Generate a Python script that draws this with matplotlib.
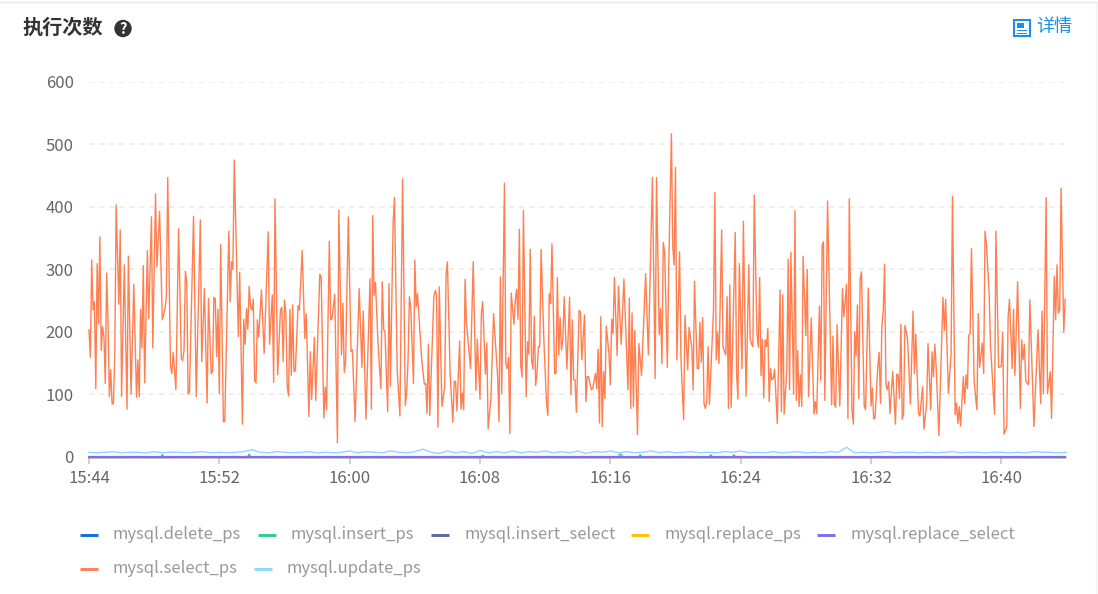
import matplotlib
matplotlib.use("Agg")
import matplotlib.pyplot as plt
from matplotlib.patches import Circle, Rectangle
from matplotlib.lines import Line2D

plt.rcParams['font.family'] = ['Noto Sans CJK SC', 'DejaVu Sans']

TITLE = "执行次数"
DETAIL = "详情"
Y_TICKS = [0, 100, 200, 300, 400, 500, 600]
X_TICK_MIN = [0, 8, 16, 24, 32, 40, 48, 56]
X_TICK_LABELS = ["15:44", "15:52", "16:00", "16:08", "16:16", "16:24", "16:32", "16:40"]
STEP_MIN = 5 / 60  # sample step: 5 seconds

select_steps_a = [0,1,2,3,4,5,6,7,8,9,10,11,12,13,14,15,16,17,18,19,20,22,23,24,26,28,29,31,33,35,36,37,38,39,40,41,43,44,46,47,49,50,52,54,56,57,58,60,61,62,64,66,68,69,70,71,72,73,74,77,79,82,83,85,87,88,90,91,92,93,94,95,96,97,99,100,103,104,105,106,107,110,111,113,114,115,116,117,118,119,120,121,122,123,124,125,127,129,132,133,135,136,137,139,141,142,143,144,145,146,147,148,149,150,151,152,154,155,157,159,160,162,163,164,166,167,170,171,173,174,175,177,178,179,181,183,184,186,187,188,189,191,193,194,196,199,201,202,204,207,208,209,210,211,213,215,216,217,218,220,221,222,224,225,227,229,231,233,234,235]
select_values_a = [203,159,315,235,248,109,309,213,352,170,208,192,117,294,219,96,139,84,85,165,403,244,363,96,307,76,321,100,276,95,155,96,236,174,306,118,330,221,384,174,421,304,393,219,237,256,447,144,133,167,107,365,157,154,171,297,280,100,104,385,96,379,152,269,86,253,133,136,255,253,160,236,101,340,56,56,361,248,312,300,475,192,295,52,220,180,237,204,273,240,235,252,122,118,219,191,267,165,360,180,259,119,413,131,235,239,152,251,229,112,97,236,130,243,136,138,242,235,330,189,229,64,168,91,191,90,292,288,62,111,75,345,219,221,260,22,395,163,246,135,152,384,168,171,56,269,143,233,60,285,76,386,258,279,176,109,280,204,200,72,277,113,373,415,139,65,445,82,101,155]

select_steps_b = [236,237,239,240,241,242,245,247,248,249,250,251,254,255,256,257,258,260,262,263,264,266,268,269,270,271,273,274,275,276,277,278,281,283,285,286,288,289,290,292,293,294,296,298,301,302,303,304,306,307,308,309,310,311,313,314,315,316,317,318,319,320,322,323,324,325,326,327,328,329,330,331,332,333,335,337,338,339,340,341,343,344,345,346,347,348,349,350,352,354,355,356,357,358,359,361,362,363,365,366,367,368,370,371,373,374,375,376,377,378,379,380,381,383,384,385,386,387,389,390,392,394,396,397,398,399,400,401,402,404,405,407,410,412,415,417,418,420,421,422,423,424,426,427,429,430,431,432,433,435,436,438,439,441,442,444,445,446,448,449,450,451,452,453,454,455,456,457,460,461,462,463,464,466,467,469,470,471,472,473,476,477,478]
select_values_b = [256,240,117,315,240,261,157,116,117,69,180,66,256,266,259,47,272,80,112,291,312,133,55,121,120,73,185,76,102,75,284,216,141,312,106,188,92,229,248,132,182,45,91,229,128,56,288,101,438,149,141,159,37,262,212,251,268,220,364,147,127,394,96,184,164,332,155,140,225,114,133,176,176,332,189,85,66,261,245,341,133,133,287,163,223,171,187,256,140,255,99,219,123,123,71,234,232,155,227,88,128,128,107,109,133,109,172,54,224,48,136,93,209,165,115,220,197,287,162,273,180,284,165,107,254,77,230,80,202,35,181,130,293,163,447,125,447,195,237,149,343,328,143,299,517,336,307,463,155,328,157,59,226,139,207,176,107,281,141,141,215,151,223,85,77,88,176,84,235,423,155,200,149,363,176,163,256,77,275,79,359,133,92]

select_steps_c = [479,481,482,484,486,487,488,489,490,492,493,494,495,496,497,498,499,500,501,502,503,504,505,507,509,510,511,512,514,515,516,517,519,520,521,522,523,524,525,526,528,529,530,532,534,535,536,538,539,540,541,542,544,547,548,549,550,551,553,555,556,558,559,560,562,563,564,565,566,567,568,569,571,572,574,576,577,578,579,581,582,583,584,585,586,587,588,589,590,592,594,595,596,597,598,599,600,601,602,603,605,607,608,609,611,612,614,615,617,618,620,621,622,623,624,626,629,630,631,633,635,636,638,639,640,641,642,644,645,646,647,648,649,650,652,654,655,656,658,659,660,661,663,664,667,668,670,672,673,674,676,677,678,680,681,682,684,686,687,688,689,690,692,693,696,699,701,702,703,705,706,708,709,711,712,713,714,715,716,718,719]
select_values_c = [309,141,377,97,307,189,180,176,419,197,175,287,130,188,94,187,176,205,88,141,123,125,140,53,267,72,259,68,139,316,107,327,100,394,90,170,80,131,80,321,194,300,96,222,68,88,69,241,122,339,344,90,409,83,193,85,79,211,81,269,224,276,61,413,75,52,200,161,243,93,285,296,81,75,270,81,110,60,62,144,167,85,208,232,308,115,107,120,69,136,52,132,131,93,212,60,69,210,200,187,84,233,133,196,69,65,112,44,85,181,75,168,128,180,144,34,255,202,252,101,165,417,67,86,53,80,49,128,85,131,109,195,197,333,120,75,229,143,182,133,361,341,263,179,68,361,143,144,199,36,48,224,252,141,236,130,280,77,187,155,180,121,115,251,48,203,85,233,101,415,101,136,61,289,219,307,230,235,430,199,252]

# one reading every 30 s
update_values = [7,6,7,8,6,7,7,6,8,6,7,7,6,7,8,6,7,6,7,8,11,7,6,8,7,6,7,8,6,7,6,7,9,6,8,7,6,9,7,6,8,12,7,5,9,6,8,5,10,6,8,6,9,6,8,7,9,6,8,6,9,5,8,7,9,6,8,6,7,9,6,8,6,7,8,6,7,6,8,7,9,6,7,6,8,6,7,8,6,7,6,8,7,15,6,7,6,7,8,6,7,7,6,7,6,7,8,6,7,7,6,7,7,6,7,6,8,7,7,6,7]
update_every = 6

insert_steps = [0,53,54,55,117,118,119,289,290,291,390,391,392,393,405,406,407,457,458,459,474,475,476,719]
insert_values = [0,0,3,0,0,4,0,0,2,0,0,4,3,0,0,3,0,0,3,0,0,3,0,0]

zero_span = [0, 719]
zero_values = [0, 0]

legend_names = ["mysql.delete_ps", "mysql.insert_ps", "mysql.insert_select", "mysql.replace_ps",
                "mysql.replace_select", "mysql.select_ps", "mysql.update_ps"]
legend_colors = ["#0A74D0", "#2ECC8F", "#5B6C9C", "#FFC107", "#8669F0", "#FF7F50", "#8ADAFF"]

W, H = 1098, 594
fig = plt.figure(figsize=(W / 100, H / 100), dpi=100, facecolor="white")

L, R, T, B = 89, 1066.5, 82, 456.6
ax = fig.add_axes([L / W, 1 - B / H, (R - L) / W, (B - T) / H])
ax.set_xlim(0, 60)
ax.set_ylim(0, 600)
ax.patch.set_alpha(0)
for s in ax.spines.values():
    s.set_visible(False)

ax.set_yticks(Y_TICKS)
ax.set_xticks(X_TICK_MIN)
ax.set_xticklabels(X_TICK_LABELS)
ax.tick_params(axis="y", length=0, pad=11, labelsize=12, labelcolor="#666666")
ax.tick_params(axis="x", length=5, width=1.1, color="#c4c4c4", pad=5, labelsize=12, labelcolor="#666666")
ax.grid(axis="y", color="#ececec", lw=1.2, dashes=(3.2, 2.8))
ax.set_axisbelow(True)

mins = lambda steps: [s * STEP_MIN for s in steps]

select_steps = select_steps_a + select_steps_b + select_steps_c
select_values = select_values_a + select_values_b + select_values_c
update_steps = [i * update_every for i in range(len(update_values))]

ax.plot(mins(zero_span), zero_values, color=legend_colors[0], lw=1, clip_on=False)
ax.plot(mins(insert_steps), insert_values, color=legend_colors[1], lw=1, clip_on=False)
ax.plot(mins(zero_span), zero_values, color=legend_colors[2], lw=1, clip_on=False)
ax.plot(mins(zero_span), zero_values, color=legend_colors[3], lw=1, clip_on=False)
ax.plot(mins(zero_span), zero_values, color=legend_colors[4], lw=1.5, clip_on=False)
ax.plot(mins(select_steps), select_values, color=legend_colors[5], lw=1, clip_on=False)
ax.plot(mins(update_steps), update_values, color=legend_colors[6], lw=1, clip_on=False)

# overlay in pixel coordinates for the card furniture
ov = fig.add_axes([0, 0, 1, 1])
ov.set_xlim(0, W)
ov.set_ylim(H, 0)
ov.axis("off")
ov.patch.set_alpha(0)

ov.add_line(Line2D([0, W], [2, 2], color="#e8e8e8", lw=1))
ov.add_line(Line2D([1095.5, 1095.5], [2, H], color="#f0f0f0", lw=1))

ov.text(22, 27, TITLE, fontsize=14.5, fontweight="bold", color="#333333", va="center", ha="left")
ov.add_patch(Circle((123, 28.5), 8.7, color="#333333", lw=0))
ov.text(123, 28.5, "?", fontsize=10.5, fontweight="bold", color="white", va="center", ha="center")

ov.add_patch(Rectangle((1014, 20), 16, 16, fc="white", ec="#1E8FE6", lw=1.5))
ov.add_patch(Rectangle((1017, 23), 7, 5, fc="#1E8FE6", ec="none"))
ov.add_patch(Rectangle((1017, 30), 10, 1.2, fc="#1E8FE6", ec="none"))
ov.add_patch(Rectangle((1017, 33), 10, 1.2, fc="#1E8FE6", ec="none"))
ov.text(1036, 27, DETAIL, fontsize=13, color="#1E8FE6", va="center", ha="left")

legend_slots = [(80, 535), (258, 535), (431, 535), (631, 535), (817, 535), (80, 569), (254, 569)]
for (x, y), name, col in zip(legend_slots, legend_names, legend_colors):
    ov.add_line(Line2D([x, x + 18], [y, y], color=col, lw=2.1, solid_capstyle="butt"))
    ov.text(x + 33, y - 0.5, name, fontsize=12, color="#999999", va="center", ha="left")

fig.savefig("out.png", dpi=100, facecolor="white")
